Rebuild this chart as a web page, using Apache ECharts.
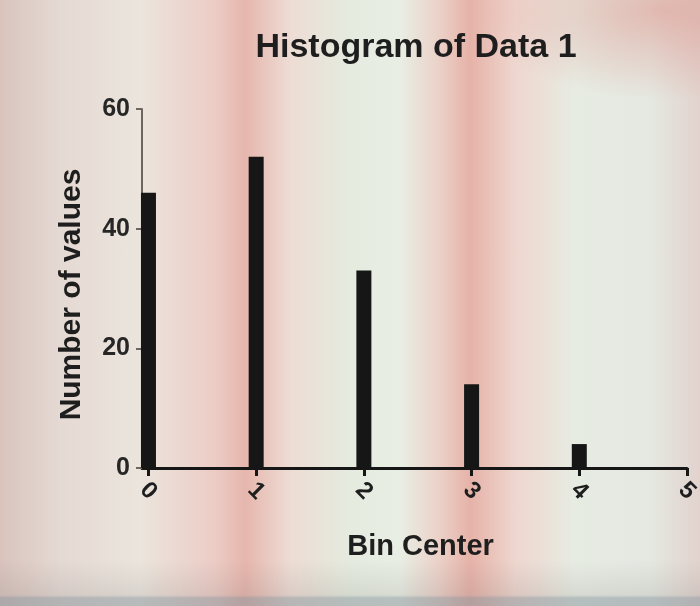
<!DOCTYPE html>
<html><head><meta charset="utf-8">
<script src="https://cdn.jsdelivr.net/npm/echarts@6/dist/echarts.min.js"></script>
<style>
html,body{margin:0;padding:0;width:700px;height:606px;overflow:hidden;}
body{
 background:
  linear-gradient(to bottom, rgba(0,0,0,0) 0px, rgba(0,0,0,0) 560px, rgba(90,90,90,0.12) 595px, rgba(120,135,145,0.45) 598px, rgba(120,135,145,0.45) 606px),
  radial-gradient(ellipse 180px 90px at 660px 10px, rgba(220,130,120,0.45), rgba(220,130,120,0)),
  linear-gradient(to right, #d9c3bd 0px, #e5d9d3 60px, #ebe5dd 140px, #ecccc5 215px, #e6b6ad 245px, #eddcd4 290px, #e5ebdf 350px, #e9eee4 400px, #ebd0c7 440px, #e6b2a8 470px, #eed6ce 515px, #e7ece3 575px, #e5e8e1 650px, #e2d2cd 700px);
}
#c{width:700px;height:606px;}
</style>
</head><body>
<div id="c"></div>
<script>
const titleText = "Histogram of Data 1";
const xName = "Bin Center";
const yName = "Number of values";
const binCenters = [0, 1, 2, 3, 4];
const counts = [46, 52, 33, 14, 4];
const xTicks = [0, 1, 2, 3, 4, 5];
const yTicks = [0, 20, 40, 60];

const chart = echarts.init(document.getElementById('c'), null, {renderer: 'canvas'});
const font = 'Liberation Sans, Arial, Helvetica, sans-serif';
chart.setOption({
  backgroundColor: 'transparent',
  animation: false,
  title: {
    text: titleText, left: 411, top: 26, textAlign: 'center',
    textStyle: {fontFamily: font, fontSize: 34, fontWeight: 'bold', color: '#1e1e1e'}
  },
  grid: {left: 142, right: 13, top: 109, bottom: 138, outerBoundsMode: 'none', containLabel: false},
  xAxis: {
    type: 'value', min: -0.06, max: 5,
    name: xName, nameLocation: 'middle', nameGap: 64,
    nameTextStyle: {fontFamily: font, fontSize: 29, fontWeight: 'bold', color: '#1e1e1e', padding: [0, 0, 0, 12]},
    splitLine: {show: false},
    axisLine: {show: true, onZero: false, lineStyle: {color: '#161616', width: 3}},
    axisTick: {show: true, customValues: xTicks, length: 8, lineStyle: {color: '#161616', width: 3}},
    axisLabel: {show: true, customValues: xTicks, rotate: -45, margin: 23,
      align: 'center', verticalAlign: 'middle',
      fontFamily: font, fontSize: 24, fontWeight: 'bold', color: '#1e1e1e'}
  },
  yAxis: {
    type: 'value', min: 0, max: 60,
    name: yName, nameLocation: 'middle', nameGap: 55,
    nameTextStyle: {fontFamily: font, fontSize: 30, fontWeight: 'bold', color: '#1e1e1e', padding: [0, 12, 0, 0]},
    splitLine: {show: false},
    axisLine: {show: true, onZero: false, lineStyle: {color: '#6e6660', width: 2}},
    axisTick: {show: true, customValues: yTicks, length: 6, lineStyle: {color: '#6e6660', width: 2}},
    axisLabel: {show: true, customValues: yTicks, margin: 12, fontFamily: font, fontSize: 25,
      fontWeight: 'bold',
      color: function (v) { return v === 60 ? '#b5aaa2' : '#262626'; }}
  },
  series: [{
    type: 'bar',
    data: binCenters.map((x, i) => [x, counts[i]]),
    barWidth: 15,
    itemStyle: {color: '#161616'},
    z: 1
  }]
});
</script>
</body></html>
